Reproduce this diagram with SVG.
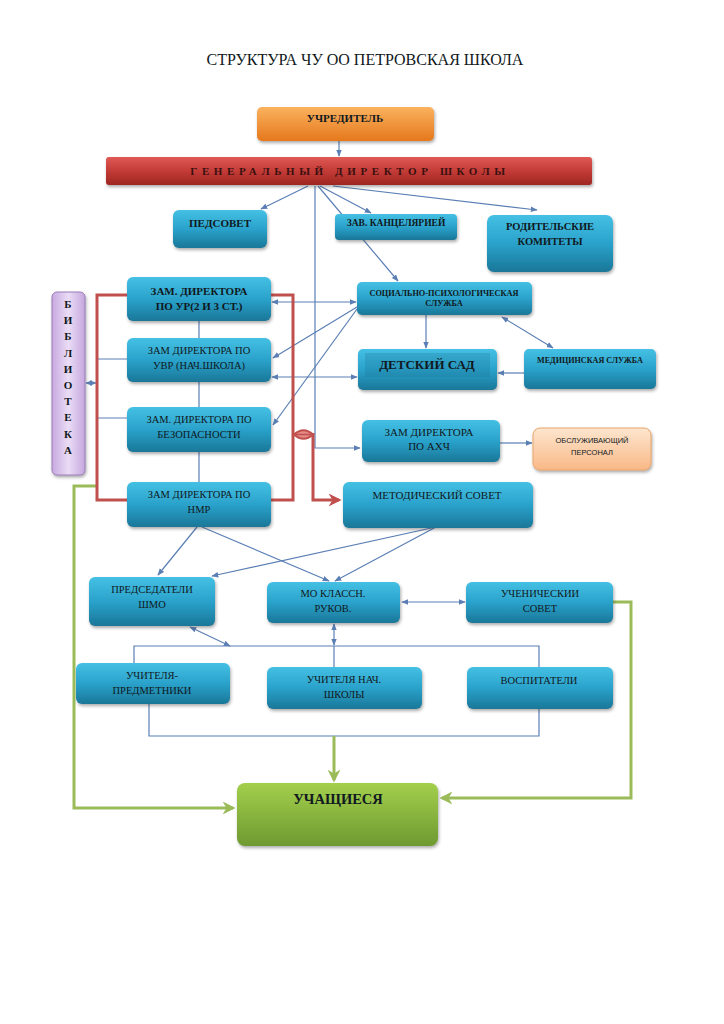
<svg xmlns="http://www.w3.org/2000/svg" width="724" height="1024" viewBox="0 0 724 1024">
<style>
.t{font-family:"Liberation Serif","Times New Roman","DejaVu Serif",serif;fill:#101820;text-anchor:middle}
.s{font-family:"Liberation Sans",Arial,sans-serif}
.bd{font-weight:bold}
.b{fill:url(#gB);filter:url(#sh)}
.c{fill:none;stroke:#5b7fb5;stroke-width:1.2}
.g{fill:none;stroke:#9bbb59;stroke-width:3}
.r{fill:none;stroke:#c0504d;stroke-width:3}
</style>
<defs>
<linearGradient id="gB" x1="0" y1="0" x2="0" y2="1"><stop offset="0" stop-color="#45c0e4"/><stop offset="0.5" stop-color="#2aa2cb"/><stop offset="1" stop-color="#1a7798"/></linearGradient>
<linearGradient id="gO" x1="0" y1="0" x2="0" y2="1"><stop offset="0" stop-color="#fbb25e"/><stop offset="1" stop-color="#e5781c"/></linearGradient>
<linearGradient id="gR" x1="0" y1="0" x2="0" y2="1"><stop offset="0" stop-color="#e05a55"/><stop offset="0.5" stop-color="#c33b36"/><stop offset="1" stop-color="#9e2622"/></linearGradient>
<linearGradient id="gP" x1="0" y1="0" x2="1" y2="0"><stop offset="0" stop-color="#c7a9e0"/><stop offset="0.5" stop-color="#eadcf5"/><stop offset="1" stop-color="#c5a6de"/></linearGradient>
<linearGradient id="gG" x1="0" y1="0" x2="0" y2="1"><stop offset="0" stop-color="#a3cf4c"/><stop offset="1" stop-color="#6e9a31"/></linearGradient>
<linearGradient id="gL" x1="0" y1="0" x2="0" y2="1"><stop offset="0" stop-color="#fde6cf"/><stop offset="1" stop-color="#f9b887"/></linearGradient>
<filter id="sh" x="-10%" y="-10%" width="125%" height="140%"><feDropShadow dx="1" dy="2" stdDeviation="1.5" flood-color="#333" flood-opacity="0.4"/></filter>
<marker id="ab" viewBox="0 0 10 10" refX="9" refY="5" markerWidth="7" markerHeight="7" orient="auto-start-reverse" markerUnits="userSpaceOnUse"><path d="M0,1 L10,5 L0,9 z" fill="#5b7fb5"/></marker>
<marker id="ag" viewBox="0 0 10 10" refX="8" refY="5" markerWidth="13" markerHeight="13" orient="auto" markerUnits="userSpaceOnUse"><path d="M0,0 L10,5 L0,10 L3,5 z" fill="#9bbb59"/></marker>
<marker id="ar" viewBox="0 0 10 10" refX="8" refY="5" markerWidth="13" markerHeight="13" orient="auto" markerUnits="userSpaceOnUse"><path d="M0,0 L10,5 L0,10 L3,5 z" fill="#c0504d"/></marker>
</defs>
<rect width="724" height="1024" fill="#fff"/>
<text class="t" x="365" y="65" font-size="16">СТРУКТУРА ЧУ ОО ПЕТРОВСКАЯ ШКОЛА</text>

<g id="connectors">
<path class="c" d="M339,141 V156" marker-end="url(#ab)"/>
<path class="c" d="M308,186 L261,209" marker-end="url(#ab)"/>
<path class="c" d="M315,186 V448 H360" marker-end="url(#ab)"/>
<path class="c" d="M320,186 L371,213" marker-end="url(#ab)"/>
<path class="c" d="M318,186 L398,281" marker-end="url(#ab)"/>
<path class="c" d="M333,186 L537,210" marker-end="url(#ab)"/>
<path class="c" d="M272,302 H356" marker-start="url(#ab)" marker-end="url(#ab)"/>
<path class="c" d="M357,307 L273,358" marker-end="url(#ab)"/>
<path class="c" d="M357,309 L273,425" marker-end="url(#ab)"/>
<path class="c" d="M272,377 H357" marker-start="url(#ab)" marker-end="url(#ab)"/>
<path class="c" d="M426,315 V348" marker-end="url(#ab)"/>
<path class="c" d="M502,317 L553,348" marker-start="url(#ab)" marker-end="url(#ab)"/>
<path class="c" d="M524,373 H498" marker-end="url(#ab)"/>
<path class="c" d="M500,443 H532" marker-end="url(#ab)"/>
<path class="c" d="M86,383 H96" marker-start="url(#ab)" marker-end="url(#ab)"/>
<path class="c" d="M97,359 H127 M97,418 H127"/>
<path class="c" d="M199,321 V338 M199,382 V407 M199,452 V482" stroke-width="2"/>
<path class="c" d="M197,527 L158,575" marker-end="url(#ab)"/>
<path class="c" d="M202,527 L329,581" marker-end="url(#ab)"/>
<path class="c" d="M436,527 L212,576" marker-end="url(#ab)"/>
<path class="c" d="M436,527 L335,581" marker-end="url(#ab)"/>
<path class="c" d="M402,602 H465" marker-start="url(#ab)" marker-end="url(#ab)"/>
<path class="c" d="M190,627 L230,646" marker-start="url(#ab)" marker-end="url(#ab)"/>
<path class="c" d="M134,663 V646 H539 V667"/>
<path class="c" d="M334,624 V645" marker-start="url(#ab)" marker-end="url(#ab)"/>
<path class="c" d="M334,646 V667"/>
<path class="c" d="M149,704 V736 H539 V709"/>
<path class="g" d="M97,486 H74 V808 H233" marker-end="url(#ag)"/>
<path class="g" d="M613,602 H631 V798 H442" marker-end="url(#ag)"/>
<path class="g" d="M334,736 V780" marker-end="url(#ag)"/>
<path class="r" d="M127,295 H97 V500 H127"/>
<path class="r" d="M271,295 H293 V500 H271"/>
<path class="r" d="M313,433 V500 H339" marker-end="url(#ar)"/>
<path d="M294,434.5 Q303.5,426 313,434.5 Q303.5,443 294,434.5 Z" fill="#e58a86" stroke="#c0504d" stroke-width="2"/>
<path d="M296,434.5 H311" stroke="#c0504d" stroke-width="1.5"/>
</g>

<g id="n-uchreditel"><rect x="257" y="107" width="177" height="34" rx="5" fill="url(#gO)" filter="url(#sh)"/><text class="t bd" x="345" y="122" font-size="11">УЧРЕДИТЕЛЬ</text></g>
<g id="n-gendir"><rect x="106" y="157" width="486" height="28" rx="3" fill="url(#gR)" filter="url(#sh)"/><text class="t bd" x="350" y="175" font-size="11" letter-spacing="4.6" style="fill:#3a1010">ГЕНЕРАЛЬНЫЙ ДИРЕКТОР ШКОЛЫ</text></g>
<g id="n-pedsovet"><rect class="b" x="173" y="210" width="94" height="38" rx="6"/><text class="t bd" x="220" y="227" font-size="11">ПЕДСОВЕТ</text></g>
<g id="n-zav"><rect class="b" x="335" y="214" width="122" height="26" rx="4"/><text class="t bd" x="396" y="226" font-size="9.5">ЗАВ. КАНЦЕЛЯРИЕЙ</text></g>
<g id="n-rodit"><rect class="b" x="487" y="215" width="126" height="57" rx="7"/><text class="t bd" x="550" y="230" font-size="10.5">РОДИТЕЛЬСКИЕ</text><text class="t bd" x="550" y="245" font-size="10.5">КОМИТЕТЫ</text></g>
<g id="n-ur"><rect class="b" x="127" y="277" width="144" height="44" rx="6"/><text class="t bd" x="199" y="295" font-size="11">ЗАМ. ДИРЕКТОРА</text><text class="t bd" x="199" y="310" font-size="11">ПО УР(2 И 3 СТ.)</text></g>
<g id="n-uvr"><rect class="b" x="127" y="338" width="144" height="44" rx="6"/><text class="t" x="199" y="354" font-size="10.5">ЗАМ ДИРЕКТОРА ПО</text><text class="t" x="199" y="369" font-size="10.5">УВР (НАЧ.ШКОЛА)</text></g>
<g id="n-bez"><rect class="b" x="127" y="407" width="144" height="45" rx="6"/><text class="t" x="199" y="423" font-size="10.5">ЗАМ. ДИРЕКТОРА ПО</text><text class="t" x="199" y="438" font-size="10.5">БЕЗОПАСНОСТИ</text></g>
<g id="n-nmr"><rect class="b" x="127" y="482" width="144" height="45" rx="6"/><text class="t" x="199" y="498" font-size="10.5">ЗАМ ДИРЕКТОРА ПО</text><text class="t" x="199" y="513" font-size="10.5">НМР</text></g>
<g id="n-bibl"><rect x="52" y="292" width="33" height="183" rx="5" fill="url(#gP)" stroke="#9b7cb8" stroke-width="1" filter="url(#sh)"/>
<text class="t bd" x="68" font-size="11"><tspan x="68" y="308">Б</tspan><tspan x="68" y="324">И</tspan><tspan x="68" y="340">Б</tspan><tspan x="68" y="357">Л</tspan><tspan x="68" y="373">И</tspan><tspan x="68" y="389">О</tspan><tspan x="68" y="405">Т</tspan><tspan x="68" y="421">Е</tspan><tspan x="68" y="438">К</tspan><tspan x="68" y="454">А</tspan></text></g>
<g id="n-social"><rect class="b" x="357" y="282" width="175" height="33" rx="5"/><text class="t bd" x="444" y="295.5" font-size="8.3">СОЦИАЛЬНО-ПСИХОЛОГИЧЕСКАЯ</text><text class="t bd" x="444" y="306" font-size="8.3">СЛУЖБА</text></g>
<g id="n-detsad"><rect class="b" x="358" y="349" width="139" height="41" rx="5"/><rect x="365" y="353" width="125" height="24" fill="#1a6f8e" opacity="0.25"/><text class="t bd" x="427" y="369" font-size="13">ДЕТСКИЙ САД</text></g>
<g id="n-med"><rect class="b" x="524" y="349" width="132" height="40" rx="5"/><text class="t bd" x="590" y="362.5" font-size="8.1">МЕДИЦИНСКАЯ СЛУЖБА</text></g>
<g id="n-ahch"><rect class="b" x="362" y="420" width="138" height="42" rx="6"/><text class="t" x="429" y="436" font-size="11">ЗАМ ДИРЕКТОРА</text><text class="t" x="429" y="450" font-size="11">ПО АХЧ</text></g>
<g id="n-obsl"><rect x="533" y="428" width="118" height="42" rx="7" fill="url(#gL)" stroke="#e9a56a" stroke-width="1" filter="url(#sh)"/><text class="t s" x="592" y="443" font-size="7.5">ОБСЛУЖИВАЮЩИЙ</text><text class="t s" x="592" y="455" font-size="7.5">ПЕРСОНАЛ</text></g>
<g id="n-metod"><rect class="b" x="343" y="482" width="190" height="46" rx="6"/><text class="t" x="437" y="499" font-size="11">МЕТОДИЧЕСКИЙ СОВЕТ</text></g>
<g id="n-shmo"><rect class="b" x="89" y="577" width="126" height="49" rx="6"/><text class="t" x="152" y="593" font-size="10.5">ПРЕДСЕДАТЕЛИ</text><text class="t" x="152" y="608" font-size="10.5">ШМО</text></g>
<g id="n-mo"><rect class="b" x="267" y="582" width="133" height="41" rx="6"/><text class="t" x="333" y="597" font-size="10.5">МО КЛАССН.</text><text class="t" x="333" y="612" font-size="10.5">РУКОВ.</text></g>
<g id="n-uchsov"><rect class="b" x="466" y="582" width="147" height="41" rx="6"/><text class="t" x="540" y="597" font-size="10.5">УЧЕНИЧЕСКИИ</text><text class="t" x="540" y="612" font-size="10.5">СОВЕТ</text></g>
<g id="n-uchpred"><rect class="b" x="76" y="663" width="154" height="41" rx="6"/><text class="t" x="152" y="679" font-size="10.5">УЧИТЕЛЯ-</text><text class="t" x="152" y="694" font-size="10.5">ПРЕДМЕТНИКИ</text></g>
<g id="n-uchnach"><rect class="b" x="267" y="667" width="155" height="42" rx="6"/><text class="t" x="344" y="683" font-size="10.5">УЧИТЕЛЯ НАЧ.</text><text class="t" x="344" y="698" font-size="10.5">ШКОЛЫ</text></g>
<g id="n-vosp"><rect class="b" x="467" y="667" width="146" height="42" rx="6"/><text class="t" x="539" y="684" font-size="10.5">ВОСПИТАТЕЛИ</text></g>
<g id="n-uchasch"><rect x="237" y="783" width="201" height="63" rx="8" fill="url(#gG)" filter="url(#sh)"/><text class="t bd" x="338" y="804" font-size="14.5">УЧАЩИЕСЯ</text></g>
</svg>
